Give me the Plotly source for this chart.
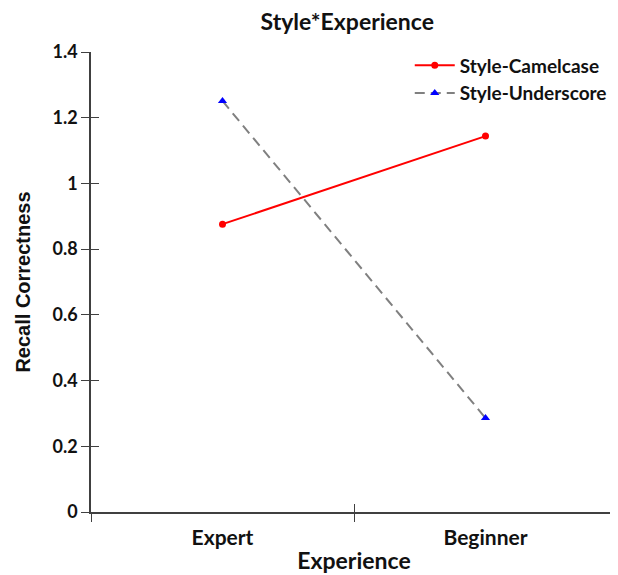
import plotly.graph_objects as go

categories = ["Expert", "Beginner"]
camelcase = [0.876, 1.144]
underscore = [1.251, 0.286]
y_ticks = [0, 0.2, 0.4, 0.6, 0.8, 1, 1.2, 1.4]

FONT = "Lato"
AX = "#404040"
TXT = "#111111"

fig = go.Figure()
fig.add_trace(go.Scatter(
    x=categories, y=camelcase, name="Style-Camelcase", mode="lines+markers",
    line=dict(color="#ff0000", width=2), marker=dict(color="#ff0000", size=7, symbol="circle")))
fig.add_trace(go.Scatter(
    x=categories, y=underscore, name="Style-Underscore", mode="lines+markers",
    line=dict(color="#808080", width=2, dash="10px,6px"),
    marker=dict(color="#0000ff", size=8, symbol="triangle-up")))
# invisible helper trace so the overlay axes (inner half of the crossing ticks) are drawn
fig.add_trace(go.Scatter(x=categories, y=camelcase, xaxis="x2", yaxis="y2", mode="markers",
                         marker=dict(opacity=0, size=1), showlegend=False, hoverinfo="skip"))

common_x = dict(type="category", categoryorder="array", categoryarray=categories,
                range=[-0.5, 1.5], tickson="boundaries", ticklen=8, tickwidth=1.2, tickcolor=AX,
                showgrid=False, zeroline=False, automargin=False)
common_y = dict(range=[0, 1.4], tickvals=y_ticks, ticklen=8, tickwidth=1.2, tickcolor=AX,
                showgrid=False, zeroline=False, automargin=False)

fig.update_layout(
    width=618, height=575,
    margin=dict(l=83, r=9, t=44, b=71, autoexpand=False),
    paper_bgcolor="white", plot_bgcolor="white",
    title=dict(text="Style*Experience", x=0.549, xanchor="center", y=0.975, yanchor="middle",
               font=dict(family=FONT, size=23, color=TXT, weight="bold")),
    xaxis=dict(**common_x, ticks="outside", showline=True, linecolor=AX, linewidth=1.5,
               tickfont=dict(family=FONT, size=21, color=TXT, weight="bold"), ticklabelstandoff=6,
               title=dict(text="Experience", font=dict(family=FONT, size=23, color=TXT, weight="bold"), standoff=5)),
    yaxis=dict(**common_y, ticks="outside", showline=True, linecolor=AX, linewidth=1.5,
               tickfont=dict(family=FONT, size=18, color=TXT, weight="bold"),
               title=dict(text="Recall Correctness",
                          font=dict(family="Liberation Sans", size=20, color=TXT, weight="bold"), standoff=16)),
    xaxis2=dict(**common_x, ticks="inside", overlaying="x", anchor="y2", side="bottom",
                showticklabels=False, showline=False),
    yaxis2=dict(**common_y, ticks="inside", overlaying="y", anchor="x2", side="left",
                showticklabels=False, showline=False),
    legend=dict(x=0.606, xanchor="left", y=1.012, yanchor="top", bgcolor="rgba(0,0,0,0)",
                font=dict(family=FONT, size=19, color=TXT, weight="bold"), itemwidth=40),
    showlegend=True,
)

fig.write_html("out.html")
